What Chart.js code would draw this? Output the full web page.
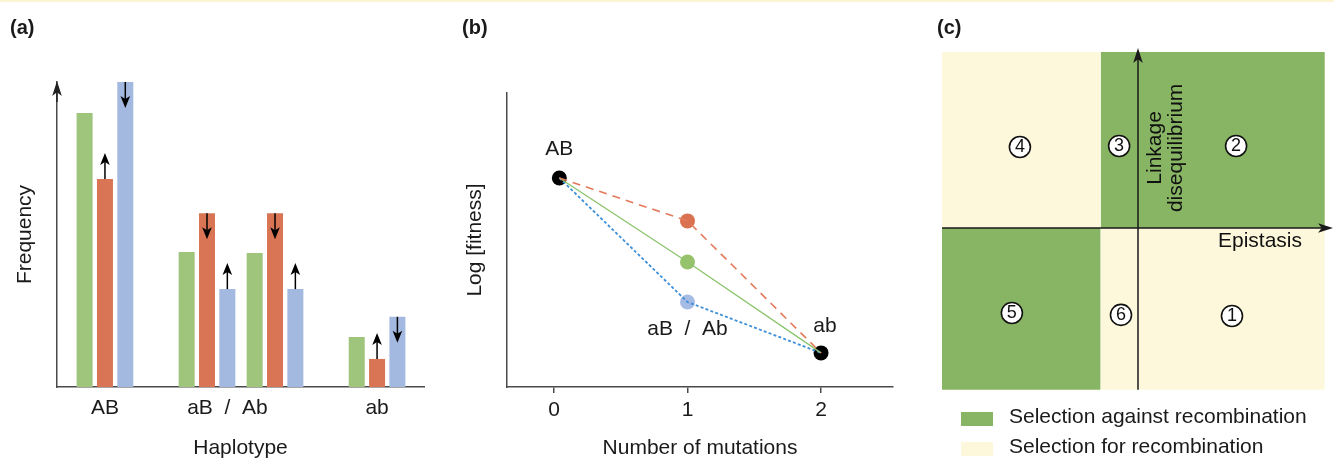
<!DOCTYPE html>
<html><head><meta charset="utf-8">
<script src="https://cdn.jsdelivr.net/npm/chart.js@4.4.1/dist/chart.umd.min.js"></script>
<style>
html,body{margin:0;padding:0;background:#fff;}
body{width:1334px;height:461px;overflow:hidden;position:relative;font-family:'Liberation Sans',Arial,Helvetica,sans-serif;}
#topline{position:absolute;left:0;top:0;width:1334px;height:2px;background:#fcf4d2;}
.pl{position:absolute;top:15px;font-weight:bold;font-size:20px;line-height:24px;color:#1a1a1a;}
canvas{position:absolute;top:0;}
</style></head><body>
<div id="topline"></div>
<canvas id="ca" width="450" height="461" style="left:0px"></canvas>
<canvas id="cb" width="470" height="461" style="left:450px"></canvas>
<canvas id="cc" width="414" height="461" style="left:920px"></canvas>
<div class="pl" style="left:10px">(a)</div>
<div class="pl" style="left:462px">(b)</div>
<div class="pl" style="left:937px">(c)</div>
<script>
// ---------- (a) haplotype frequencies ----------
const haplotypes = ["AB", "aB", "Ab", "ab"];
const haplotypePos = [0, 3, 5, 8];
const freqGreen = [0.898, 0.443, 0.439, 0.164];
const freqRed   = [0.682, 0.570, 0.570, 0.092];
const freqBlue  = [1.000, 0.321, 0.321, 0.230];
const redShift  = [1, -1, -1, 1];   // +1 = arrow up, -1 = arrow down
const blueShift = [-1, 1, 1, -1];
const haploTickPos = [0, 3.6, 8];
const haploTickLabels = ["AB", "aB  /  Ab", "ab"];

// ---------- (b) fitness landscape ----------
const mutationTicks = [0, 1, 2];
const pathMutations = [0.04, 1, 2];
const fitRed   = [0.711, 0.565, 0.116];
const fitGreen = [0.711, 0.425, 0.116];
const fitBlue  = [0.711, 0.289, 0.116];
const genotypeLabels = ["AB", "aB  /  Ab", "ab"];

// ---------- (c) epistasis / LD map ----------
const epistasisEdges = [-1.049, -0.2, 1.0];
const ldEdges = [1.0, -0.92];
const regionNumbers = [4, 3, 2, 5, 6, 1];
const regionEpistasis = [-0.632, -0.101, 0.525, -0.675, -0.091, 0.503];
const regionLD = [0.46, 0.466, 0.466, -0.483, -0.494, -0.50];
const legendLabels = ["Selection against recombination", "Selection for recombination"];

const FONT = "'Liberation Sans', Arial, Helvetica, sans-serif";
const FS = 21;
Chart.defaults.font.family = FONT;
Chart.defaults.font.size = FS;
Chart.defaults.color = '#1a1a1a';
Chart.defaults.animation = false;
Chart.defaults.events = [];
Chart.defaults.plugins.tooltip.enabled = false;
Chart.defaults.plugins.legend.display = false;
Chart.defaults.layout.autoPadding = false;

const AX = '#4a4a4a';
const BAR_G = '#9fc47b', BAR_R = '#d97555', BAR_B = '#a3b9df';
const C_GREEN = '#88b563', C_YELLOW = '#fdf8dc';
const legendColors = [C_GREEN, C_YELLOW];

function arrow(ctx, x0, y0, x1, y1, head, half, color, lw) {
  const a = Math.atan2(y1 - y0, x1 - x0), c = Math.cos(a), s = Math.sin(a);
  const bx = x1 - head * c, by = y1 - head * s;
  ctx.save();
  ctx.strokeStyle = color; ctx.fillStyle = color; ctx.lineWidth = lw;
  ctx.beginPath(); ctx.moveTo(x0, y0); ctx.lineTo(bx + 0.3 * head * c, by + 0.3 * head * s); ctx.stroke();
  ctx.beginPath();
  ctx.moveTo(x1, y1);
  ctx.lineTo(bx + half * s, by - half * c);
  ctx.lineTo(bx + 0.25 * head * c, by + 0.25 * head * s);
  ctx.lineTo(bx - half * s, by + half * c);
  ctx.closePath(); ctx.fill();
  ctx.restore();
}

// ---------- chart (a) ----------
const barArrows = {
  id: 'barArrows',
  afterDatasetsDraw(chart) {
    const ctx = chart.ctx;
    [[1, redShift], [2, blueShift]].forEach(([di, dirs]) => {
      chart.getDatasetMeta(di).data.forEach((bar, i) => {
        arrow(ctx, bar.x, bar.y, bar.x, bar.y - dirs[i] * 26, 12, 4.8, '#000', 1.5);
      });
    });
    const {left, top} = chart.chartArea;
    arrow(ctx, left, top + 20, left, top - 1, 15, 4.8, '#222', 1.5);
  }
};
const mk = (vals) => vals.map((v, i) => ({x: haplotypePos[i], y: v}));
new Chart(document.getElementById('ca'), {
  type: 'bar',
  data: { datasets: [
    {label: 'before', data: mk(freqGreen), backgroundColor: BAR_G},
    {label: 'negative', data: mk(freqRed), backgroundColor: BAR_R},
    {label: 'positive', data: mk(freqBlue), backgroundColor: BAR_B}
  ]},
  options: {
    responsive: false,
    layout: {padding: {left: 2, top: 82, right: 26, bottom: 0}},
    datasets: {bar: {categoryPercentage: 0.897, barPercentage: 0.787}},
    scales: {
      x: {
        type: 'linear', offset: false, min: -1.41, max: 9.38,
        grid: {display: false, drawTicks: false},
        border: {display: true, color: AX, width: 1.5},
        afterBuildTicks: s => { s.ticks = haploTickPos.map(v => ({value: v})); },
        ticks: {padding: 8.9, autoSkip: false, maxRotation: 0, callback: (v, i) => haploTickLabels[i]},
        title: {display: true, text: 'Haplotype', padding: {top: 5.8, bottom: 0}}
      },
      y: {
        min: 0, max: 1,
        grid: {display: false, drawTicks: false},
        border: {display: true, color: AX, width: 1.5},
        ticks: {display: false},
        title: {display: true, text: 'Frequency', padding: {top: 10.4, bottom: 19.4}}
      }
    }
  },
  plugins: [barArrows]
});

// ---------- chart (b) ----------
const fitLabels = {
  id: 'fitLabels',
  afterDatasetsDraw(chart) {
    const ctx = chart.ctx;
    const p = chart.getDatasetMeta(3).data;
    ctx.save();
    ctx.font = FS + 'px ' + FONT; ctx.fillStyle = '#1a1a1a';
    ctx.textAlign = 'center'; ctx.textBaseline = 'alphabetic';
    ctx.fillText(genotypeLabels[0], p[0].x, p[0].y - 23);
    ctx.fillText(genotypeLabels[1], p[3].x, p[3].y + 33);
    ctx.fillText(genotypeLabels[2], p[4].x + 4, p[4].y - 21);
    ctx.restore();
  }
};
const path = (vals) => vals.map((v, i) => ({x: pathMutations[i], y: v}));
new Chart(document.getElementById('cb'), {
  type: 'scatter',
  data: { datasets: [
    {data: path(fitRed), showLine: true, borderColor: '#e47a5c', borderWidth: 1.6, borderDash: [8, 6], pointRadius: 0, order: 0},
    {data: path(fitGreen), showLine: true, borderColor: '#8cc36b', borderWidth: 1.3, pointRadius: 0, order: 0},
    {data: path(fitBlue), showLine: true, borderColor: '#3d8fd8', borderWidth: 1.8, borderDash: [3, 2.2], pointRadius: 0, order: 0},
    {data: [
        {x: pathMutations[0], y: fitGreen[0]},
        {x: pathMutations[1], y: fitRed[1]},
        {x: pathMutations[1], y: fitGreen[1]},
        {x: pathMutations[1], y: fitBlue[1]},
        {x: pathMutations[2], y: fitGreen[2]}],
     showLine: false, pointRadius: 7.5, pointBorderWidth: 0,
     pointBackgroundColor: ['#000', '#da7150', '#97c26c', '#a7bce4', '#000'], order: 1}
  ]},
  options: {
    responsive: false,
    layout: {padding: {left: 2, top: 93, right: 27, bottom: 0}},
    scales: {
      x: {
        type: 'linear', min: -0.352, max: 2.539,
        grid: {display: true, drawOnChartArea: false, drawTicks: true, tickLength: 6, color: AX, lineWidth: 1.5},
        border: {display: true, color: AX, width: 1.5},
        afterBuildTicks: s => { s.ticks = mutationTicks.map(v => ({value: v})); },
        ticks: {padding: 4.9, autoSkip: false, maxRotation: 0, callback: v => String(v)},
        title: {display: true, text: 'Number of mutations', padding: {top: 7.8, bottom: 0}}
      },
      y: {
        min: 0, max: 1,
        grid: {display: false, drawTicks: false},
        border: {display: true, color: AX, width: 1.5},
        ticks: {display: false},
        title: {display: true, text: 'Log [fitness]', padding: {top: 10.4, bottom: 19.4}}
      }
    }
  },
  plugins: [fitLabels]
});

// ---------- chart (c) ----------
const quadDecor = {
  id: 'quadDecor',
  afterDatasetsDraw(chart) {
    const {ctx, chartArea, scales: {x, y}} = chart;
    const x0 = x.getPixelForValue(0), y0 = y.getPixelForValue(0);
    const left = x.getPixelForValue(epistasisEdges[0]);
    const bottom = y.getPixelForValue(ldEdges[1]);
    arrow(ctx, left, y0, chartArea.right - 1, y0, 15, 4.8, '#1a1a1a', 1.5);
    arrow(ctx, x0, bottom, x0, chartArea.top + 8, 15, 4.8, '#1a1a1a', 1.5);
    ctx.save();
    ctx.fillStyle = '#111';
    ctx.textAlign = 'center'; ctx.textBaseline = 'middle';
    ctx.font = '18px ' + FONT;
    chart.getDatasetMeta(4).data.forEach((pt, i) => ctx.fillText(String(regionNumbers[i]), pt.x, pt.y + 0.5));
    ctx.font = FS + 'px ' + FONT;
    ctx.fillText('Epistasis', x.getPixelForValue(0.653), y0 + 13);
    ctx.save();
    ctx.translate(x0 + 17, y.getPixelForValue(0.455));
    ctx.rotate(-Math.PI / 2);
    ctx.fillText('Linkage', 0, 0);
    ctx.fillText('disequilibrium', 0, 21);
    ctx.restore();
    // legend below the map
    ctx.textAlign = 'left';
    legendLabels.forEach((t, i) => {
      const top = chartArea.bottom + 13 + i * 30;
      ctx.fillStyle = legendColors[i];
      ctx.fillRect(chartArea.left + 19, top, 32, 14);
      ctx.fillStyle = '#1a1a1a';
      ctx.fillText(t, chartArea.left + 67, top + 5);
    });
    ctx.restore();
  }
};
function quad(xa, xb, yv, color) {
  return {data: [{x: xa, y: yv}, {x: xb, y: yv}], showLine: true, borderWidth: 0,
          borderColor: 'rgba(0,0,0,0)', pointRadius: 0, backgroundColor: color,
          fill: {value: 0}, tension: 0, order: 1};
}
new Chart(document.getElementById('cc'), {
  type: 'scatter',
  data: { datasets: [
    quad(epistasisEdges[0], epistasisEdges[1], ldEdges[0], C_YELLOW),
    quad(epistasisEdges[1], epistasisEdges[2], ldEdges[0], C_GREEN),
    quad(epistasisEdges[0], epistasisEdges[1], ldEdges[1], C_GREEN),
    quad(epistasisEdges[1], epistasisEdges[2], ldEdges[1], C_YELLOW),
    {data: regionEpistasis.map((v, i) => ({x: v, y: regionLD[i]})), showLine: false,
     pointRadius: 10.5, pointBackgroundColor: '#fff', pointBorderColor: '#111', pointBorderWidth: 1.6, order: -1}
  ]},
  options: {
    responsive: false,
    layout: {padding: {left: 22, top: 40, right: 0, bottom: 62}},
    scales: {
      x: {type: 'linear', display: false, min: -1.049, max: 1.049},
      y: {display: false, min: -0.972, max: 1.068}
    }
  },
  plugins: [quadDecor]
});
</script>
</body></html>
